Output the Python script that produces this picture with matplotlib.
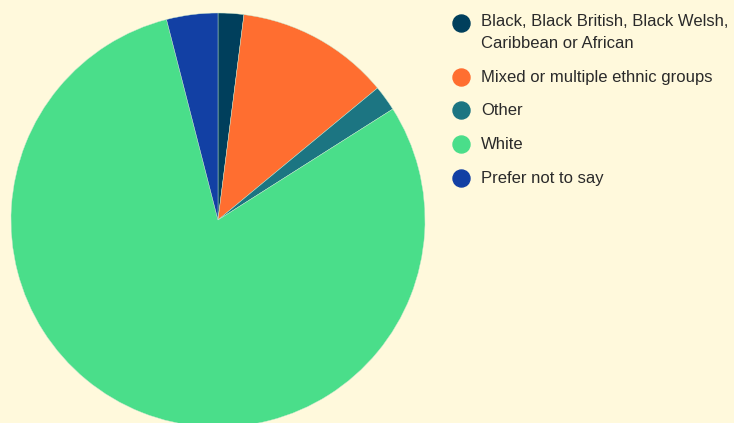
import matplotlib.pyplot as plt

labels = ["Black, Black British, Black Welsh,\nCaribbean or African",
          "Mixed or multiple ethnic groups",
          "Other",
          "White",
          "Prefer not to say"]
counts = [1, 6, 1, 40, 2]
colors = ["#003f5c", "#ff6e30", "#1c7582", "#4ade8a", "#1240a4"]

BG = "#fff9dc"
W, H = 734, 423


def main():
    fig = plt.figure(figsize=(W / 100, H / 100), dpi=100, facecolor=BG)
    ax = fig.add_axes([0, 0, 1, 1])
    ax.set_facecolor(BG)

    # pie laid out in pixel units, clockwise from 12 o'clock
    ax.pie(counts, colors=colors, startangle=90, counterclock=False,
           center=(218, H - 220), radius=207,
           wedgeprops=dict(edgecolor="#c8e8d0", linewidth=0.3))
    ax.set_xlim(0, W)
    ax.set_ylim(0, H)
    ax.set_aspect("auto")
    ax.axis("off")

    # legend drawn by hand: dot + label
    ys = [23, 77, 110, 144, 178]
    for y, lab, c in zip(ys, labels, colors):
        ax.scatter([461], [H - y], s=150, color=c, zorder=5, clip_on=False)
        if "\n" in lab:
            ax.text(481, H - y + 9, lab, fontsize=12, family="Liberation Sans",
                    color="#2a2a2a", va="top", ha="left", linespacing=1.55)
        else:
            ax.text(481, H - y, lab, fontsize=12, family="Liberation Sans",
                    color="#2a2a2a", va="center", ha="left")

    fig.savefig("out.png", dpi=100, facecolor=BG)


if __name__ == '__main__':
    main()
